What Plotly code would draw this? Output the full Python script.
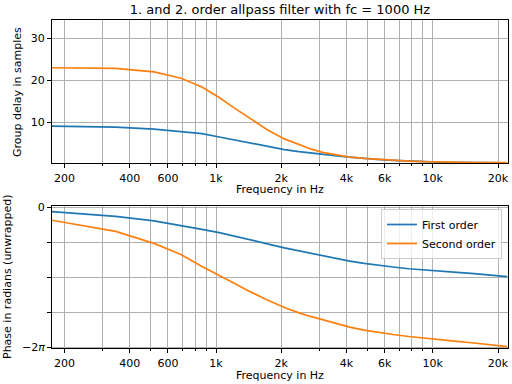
import math
import plotly.graph_objects as go

# ---- data ----
freq_hz = [172, 344, 517, 689, 861, 1034, 1206, 1378, 1550, 1723, 2067, 2412, 2756,
           3101, 3617, 4134, 4823, 5512, 6546, 7752, 9130, 10680, 12920, 15500, 18600, 22050]

gd_first = [9.12, 8.88, 8.40, 7.80, 7.30, 6.50, 5.81, 5.26, 4.76, 4.29, 3.50, 3.01, 2.62,
            2.32, 2.00, 1.70, 1.38, 1.16, 0.94, 0.77, 0.62, 0.52, 0.46, 0.42, 0.39, 0.37]
gd_second = [23.0, 22.85, 22.0, 20.5, 18.4, 15.9, 13.5, 11.5, 9.76, 8.24, 6.05, 4.70, 3.60,
             2.85, 2.17, 1.73, 1.41, 1.19, 0.97, 0.78, 0.62, 0.53, 0.47, 0.43, 0.40, 0.38]

phase_first = [-0.19, -0.41, -0.61, -0.81, -0.99, -1.14, -1.30, -1.43, -1.54, -1.64, -1.82,
               -1.96, -2.08, -2.19, -2.32, -2.42, -2.52, -2.60, -2.68, -2.76, -2.82, -2.87,
               -2.92, -2.98, -3.03, -3.11]
phase_second = [-0.57, -1.08, -1.62, -2.12, -2.66, -3.05, -3.40, -3.70, -3.95, -4.16, -4.50,
                -4.74, -4.91, -5.04, -5.22, -5.38, -5.51, -5.61, -5.71, -5.80, -5.88, -5.94,
                -6.02, -6.09, -6.16, -6.25]

x_tickvals = [200, 400, 600, 1000, 2000, 4000, 6000, 10000, 20000]
x_ticktext = ["200", "400", "600", "1k", "2k", "4k", "6k", "10k", "20k"]
x_minorvals = [300, 500, 700, 800, 900, 3000, 5000, 7000, 8000, 9000]

gd_tickvals = [10, 20, 30]
ph_tickvals = [0, -math.pi / 2, -math.pi, -3 * math.pi / 2, -2 * math.pi]
ph_ticktext = ["0", "", "", "", "\u22122<i>\u03c0</i>"]

series_names = ["First order", "Second order"]
colors = ["#1f77b4", "#ff7f0e"]

W, H = 512, 384
FONT = "DejaVu Sans"


def px(x):
    return x / W


def py(y):
    return 1 - y / H


fig = go.Figure()
for name, col, ys in zip(series_names, colors, [gd_first, gd_second]):
    fig.add_trace(go.Scatter(x=freq_hz, y=ys, mode="lines", name=name,
                             line=dict(color=col, width=1.7), showlegend=False,
                             xaxis="x", yaxis="y"))
for name, col, ys in zip(series_names, colors, [phase_first, phase_second]):
    fig.add_trace(go.Scatter(x=freq_hz, y=ys, mode="lines", name=name,
                             line=dict(color=col, width=1.7), showlegend=True,
                             xaxis="x2", yaxis="y2"))

xdom = [px(52), px(508)]
common_x = dict(type="log", range=[2.243, 4.347], tickmode="array",
                tickvals=x_tickvals, ticktext=x_ticktext, automargin=False,
                showgrid=True, gridcolor="#b0b0b0", gridwidth=0.9,
                showline=True, linecolor="black", linewidth=1, mirror=True,
                ticks="outside", ticklen=4, tickcolor="black", zeroline=False,
                tickfont=dict(family=FONT, size=11, color="black"),
                minor=dict(tickmode="array", tickvals=x_minorvals, ticks="outside",
                           ticklen=2, tickcolor="black", showgrid=True,
                           gridcolor="#b0b0b0", gridwidth=0.9))
common_y = dict(showgrid=True, gridcolor="#b0b0b0", gridwidth=0.9, automargin=False,
                showline=True, linecolor="black", linewidth=1, mirror=True,
                ticks="outside", ticklen=4, tickcolor="black", zeroline=False,
                tickfont=dict(family=FONT, size=11, color="black"))

ann_font = dict(family=FONT, size=11, color="black")

fig.update_layout(
    template="none",
    width=W, height=H, autosize=False,
    margin=dict(l=0, r=0, t=0, b=0, pad=0),
    paper_bgcolor="white", plot_bgcolor="white",
    font=dict(family=FONT, size=11, color="black"),
    title=dict(text="1. and 2. order allpass filter with fc = 1000 Hz",
               x=px(280), xanchor="center", y=py(9), yanchor="middle",
               xref="paper", yref="paper", automargin=False,
               font=dict(family=FONT, size=13, color="black")),
    xaxis=dict(domain=xdom, anchor="y", **common_x),
    yaxis=dict(domain=[py(163.3), py(20.3)], anchor="x", range=[0.24, 34.3],
               tickmode="array", tickvals=gd_tickvals, **common_y),
    xaxis2=dict(domain=xdom, anchor="y2", **common_x),
    yaxis2=dict(domain=[py(348.3), py(205.7)], anchor="x2",
                range=[-2 * math.pi - 0.045, 0.07],
                tickmode="array", tickvals=ph_tickvals, ticktext=ph_ticktext, **common_y),
    legend=dict(x=px(502), xanchor="right", y=py(209), yanchor="top",
                bgcolor="rgba(255,255,255,0.8)", bordercolor="#cccccc", borderwidth=1,
                font=dict(family=FONT, size=11, color="black"),
                itemwidth=30, tracegroupgap=0),
    annotations=[
        dict(text="Frequency in Hz", x=px(280), y=py(189), xref="paper", yref="paper",
             showarrow=False, xanchor="center", yanchor="middle", font=ann_font),
        dict(text="Frequency in Hz", x=px(280), y=py(375), xref="paper", yref="paper",
             showarrow=False, xanchor="center", yanchor="middle", font=ann_font),
        dict(text="Group delay in samples", x=px(17), y=py(92), xref="paper", yref="paper",
             showarrow=False, xanchor="center", yanchor="middle", textangle=-90,
             font=ann_font),
        dict(text="Phase in radians (unwrapped)", x=px(7), y=py(277), xref="paper",
             yref="paper", showarrow=False, xanchor="center", yanchor="middle",
             textangle=-90, font=ann_font),
    ],
)

# remove the browser's default 8px body margin so the figure fills the window
fig.write_html("out.html", config={"displayModeBar": False},
               post_script="document.body.style.margin='0';document.body.style.overflow='hidden';")
